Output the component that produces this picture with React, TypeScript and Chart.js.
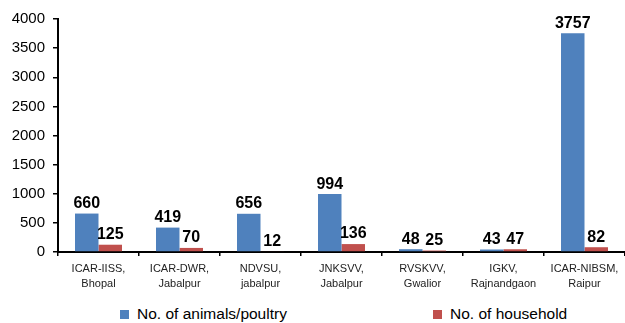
import React, { useEffect, useRef } from "react";
import { Chart, registerables } from "chart.js";

Chart.register(...registerables);

const categories: string[][] = [
  ["ICAR-IISS,", "Bhopal"],
  ["ICAR-DWR,", "Jabalpur"],
  ["NDVSU,", "jabalpur"],
  ["JNKSVV,", "Jabalpur"],
  ["RVSKVV,", "Gwalior"],
  ["IGKV,", "Rajnandgaon"],
  ["ICAR-NIBSM,", "Raipur"],
];
const animals: number[] = [660, 419, 656, 994, 48, 43, 3757];
const households: number[] = [125, 70, 12, 136, 25, 47, 82];
const seriesNames: string[] = ["No. of animals/poultry", "No. of household"];
const seriesColors: string[] = ["#4F81BD", "#C0504D"];
const yTicks: number[] = [0, 500, 1000, 1500, 2000, 2500, 3000, 3500, 4000];

const FONT = "'Liberation Sans', Arial, sans-serif";

const valueLabels = {
  id: "valueLabels",
  afterDatasetsDraw(chart: any) {
    const ctx = chart.ctx;
    ctx.save();
    ctx.font = `bold 16px ${FONT}`;
    ctx.fillStyle = "#000";
    ctx.textAlign = "center";
    ctx.textBaseline = "bottom";
    chart.data.datasets.forEach((ds: any, i: number) => {
      const meta = chart.getDatasetMeta(i);
      meta.data.forEach((el: any, j: number) => {
        ctx.fillText(String(ds.data[j]), el.x, el.y - 2);
      });
    });
    ctx.restore();
  },
};

export default function App() {
  const ref = useRef<HTMLCanvasElement>(null);
  useEffect(() => {
    if (!ref.current) return;
    const chart = new Chart(ref.current, {
      type: "bar",
      data: {
        labels: categories,
        datasets: [
          { label: seriesNames[0], data: animals, backgroundColor: seriesColors[0] },
          { label: seriesNames[1], data: households, backgroundColor: seriesColors[1] },
        ],
      },
      options: {
        animation: false,
        responsive: false,
        maintainAspectRatio: false,
        layout: { padding: { top: 19, right: 0, left: 0, bottom: 0 } },
        datasets: { bar: { categoryPercentage: 0.58, barPercentage: 1 } } as any,
        plugins: {
          legend: { display: false },
          tooltip: { enabled: false },
        },
        scales: {
          x: {
            offset: true,
            border: { display: true, color: "#000", width: 2 },
            grid: { display: true, drawOnChartArea: false, offset: true, tickLength: 4, color: "#000", lineWidth: 1.5 },
            ticks: {
              color: "#222",
              font: { family: FONT, size: 11, lineHeight: 1.35 },
              padding: 6,
              maxRotation: 0,
              autoSkip: false,
            },
            afterFit(scale: any) {
              scale.height = 48;
            },
          },
          y: {
            min: 0,
            max: 4000,
            border: { display: true, color: "#000", width: 2 },
            grid: { display: true, drawOnChartArea: false, tickLength: 5, color: "#000", lineWidth: 1.5 },
            afterBuildTicks(scale: any) {
              scale.ticks = yTicks.map((v) => ({ value: v }));
            },
            ticks: {
              color: "#000",
              font: { family: FONT, size: 15 },
              padding: 8,
              callback: (v: any) => String(v),
            },
            afterFit(scale: any) {
              scale.width = 58;
            },
          },
        },
      },
      plugins: [valueLabels],
    });
    return () => chart.destroy();
  }, []);

  return (
    <div style={{ position: "fixed", left: 0, top: 0, width: 625, height: 323, background: "#fff", fontFamily: FONT }}>
      <canvas ref={ref} width={625} height={300} style={{ display: "block" }} />
      {seriesNames.map((name, i) => (
        <div
          key={name}
          style={{
            position: "absolute",
            left: i === 0 ? 120 : 433,
            top: 305,
            display: "flex",
            alignItems: "center",
            fontSize: 15.5,
            color: "#000",
            whiteSpace: "nowrap",
          }}
        >
          <span style={{ display: "inline-block", width: 9, height: 9, background: seriesColors[i], marginRight: 8 }} />
          <span>{name}</span>
        </div>
      ))}
    </div>
  );
}
